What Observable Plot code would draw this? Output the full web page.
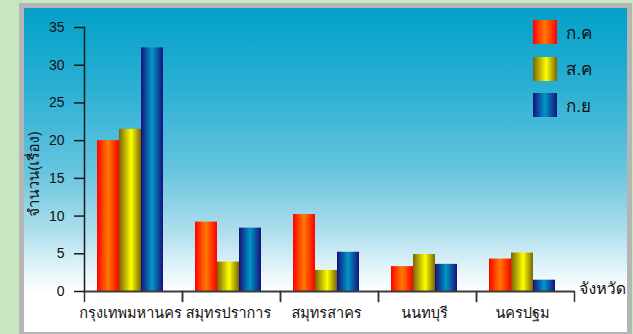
<!DOCTYPE html>
<html>
<head>
<meta charset="utf-8">
<script src="https://cdn.jsdelivr.net/npm/d3@7"></script>
<script src="https://cdn.jsdelivr.net/npm/@observablehq/plot@0.6"></script>
<style>
  html, body { margin: 0; padding: 0; }
  body {
    width: 633px; height: 334px; overflow: hidden; position: relative;
    background: #c7e7c0;
    font-family: Tahoma, Loma, Garuda, Waree, "Noto Sans Thai", "Noto Sans", "DejaVu Sans", sans-serif;
    color: #111;
  }
  #panel {
    position: absolute; left: 19px; top: 3px; width: 603px; height: 324px;
    border: 5px solid #b5b5b5;
    background: linear-gradient(to bottom, #02a0c7 0%, #2bb0d4 25%, #66c4de 50%, #b2e0ee 70%, #eaf7fb 82%, #ffffff 88%, #ffffff 100%);
  }
  #panel svg { position: absolute; left: 0; top: 0; }
  .ylabel {
    position: absolute; left: 10px; top: 166px; font-size: 15px; white-space: nowrap;
    transform: translate(-50%, -50%) rotate(-90deg);
  }
  .xlabel { position: absolute; left: 555px; top: 280px; font-size: 16px; transform: translateY(-50%); white-space: nowrap; }
  .legend { position: absolute; left: 509px; top: 12px; }
  .legend .item { display: flex; align-items: center; height: 24px; margin-bottom: 12.5px; }
  .legend .sw { width: 24px; height: 24px; margin-right: 9px; }
  .legend .lbl { font-size: 17px; }
</style>
</head>
<body>
<div id="panel"></div>
<script>
// Provinces along the x axis and the three months of the series
const provinces = ["กรุงเทพมหานคร", "สมุทรปราการ", "สมุทรสาคร", "นนทบุรี", "นครปฐม"];
const months = ["ก.ค", "ส.ค", "ก.ย"];

// Number of cases (เรื่อง) per province, one array per month
const julyCases = [20.0, 9.2, 10.2, 3.3, 4.3];
const augustCases = [21.5, 3.9, 2.8, 4.9, 5.1];
const septemberCases = [32.3, 8.4, 5.2, 3.6, 1.5];

const yTicks = [0, 5, 10, 15, 20, 25, 30, 35];

// Cylinder-like horizontal gradients, one per month
const barPaints = [
  { id: "paintJul", stops: [[0, "#ff0000"], [0.5, "#ff7a00"], [1, "#ff0000"]] },
  { id: "paintAug", stops: [[0, "#786408"], [0.55, "#ffff00"], [1, "#786408"]] },
  { id: "paintSep", stops: [[0, "#16107c"], [0.5, "#0098c6"], [1, "#16107c"]] }
];

const seriesValues = [julyCases, augustCases, septemberCases];
const rows = provinces.flatMap((province, i) =>
  months.map((month, j) => ({
    province, month, cases: seriesValues[j][i], paint: `url(#${barPaints[j].id})`
  }))
);

// Short downward tick drawn at the edges of each province band
const tickShape = { draw(context, l) { context.moveTo(0, 0); context.lineTo(0, -l); } };

const fontStack = 'Tahoma, Loma, Garuda, Waree, "Noto Sans Thai", "Noto Sans", "DejaVu Sans", sans-serif';

const chart = Plot.plot({
  width: 603,
  height: 324,
  marginLeft: 59,
  marginRight: 53,
  marginTop: 19,
  marginBottom: 41,
  style: { background: "transparent", overflow: "visible", fontFamily: fontStack, color: "#111" },
  fx: { domain: provinces, padding: 0, label: null },
  x: { domain: months, paddingInner: 0, paddingOuter: 0.635, align: 0.41, axis: null },
  y: { domain: [0, 35], label: null },
  color: { type: "identity" },
  marks: [
    Plot.barY(rows, { fx: "province", x: "month", y: "cases", fill: "paint" }),
    Plot.ruleY([0], { stroke: "#3c3c3c", strokeWidth: 2.2 }),
    Plot.frame({ anchor: "left", facetAnchor: "left", stroke: "#1a1a1a", strokeWidth: 1.5 }),
    Plot.axisY({ ticks: yTicks, tickSize: 10, tickPadding: 10, label: null, fontSize: 14, stroke: "#1a1a1a", strokeWidth: 1.5, fontFamily: "Arial, 'Liberation Sans', sans-serif" }),
    Plot.axisFx({ anchor: "bottom", tickSize: 0, tickPadding: 16, label: null, fontSize: 14.5, dx: -3 }),
    Plot.vector([0], { frameAnchor: "bottom-left", length: 10, rotate: 180, anchor: "start", shape: tickShape, stroke: "#333", strokeWidth: 1.5 }),
    Plot.vector([0], { frameAnchor: "bottom-right", length: 10, rotate: 180, anchor: "start", shape: tickShape, stroke: "#333", strokeWidth: 1.5 })
  ]
});

// Gradient definitions referenced by the bar fills
const svgNode = chart.tagName.toLowerCase() === "svg" ? chart : chart.querySelector("svg");
const defs = d3.select(svgNode).insert("defs", ":first-child");
for (const p of barPaints) {
  const g = defs.append("linearGradient").attr("id", p.id).attr("x1", "0").attr("x2", "1").attr("y1", "0").attr("y2", "0");
  for (const [o, c] of p.stops) g.append("stop").attr("offset", o).attr("stop-color", c);
}

const panel = document.getElementById("panel");
panel.appendChild(chart);

// Axis titles
const yLabel = document.createElement("div");
yLabel.className = "ylabel";
yLabel.textContent = "จำนวน(เรื่อง)";
panel.appendChild(yLabel);

const xLabel = document.createElement("div");
xLabel.className = "xlabel";
xLabel.textContent = "จังหวัด";
panel.appendChild(xLabel);

// Legend
const legend = document.createElement("div");
legend.className = "legend";
barPaints.forEach((p, j) => {
  const item = document.createElement("div");
  item.className = "item";
  const sw = document.createElement("div");
  sw.className = "sw";
  sw.style.background = `linear-gradient(to right, ${p.stops.map(([o, c]) => `${c} ${o * 100}%`).join(", ")})`;
  const lbl = document.createElement("span");
  lbl.className = "lbl";
  lbl.textContent = months[j];
  item.appendChild(sw);
  item.appendChild(lbl);
  legend.appendChild(item);
});
panel.appendChild(legend);
</script>
</body>
</html>
